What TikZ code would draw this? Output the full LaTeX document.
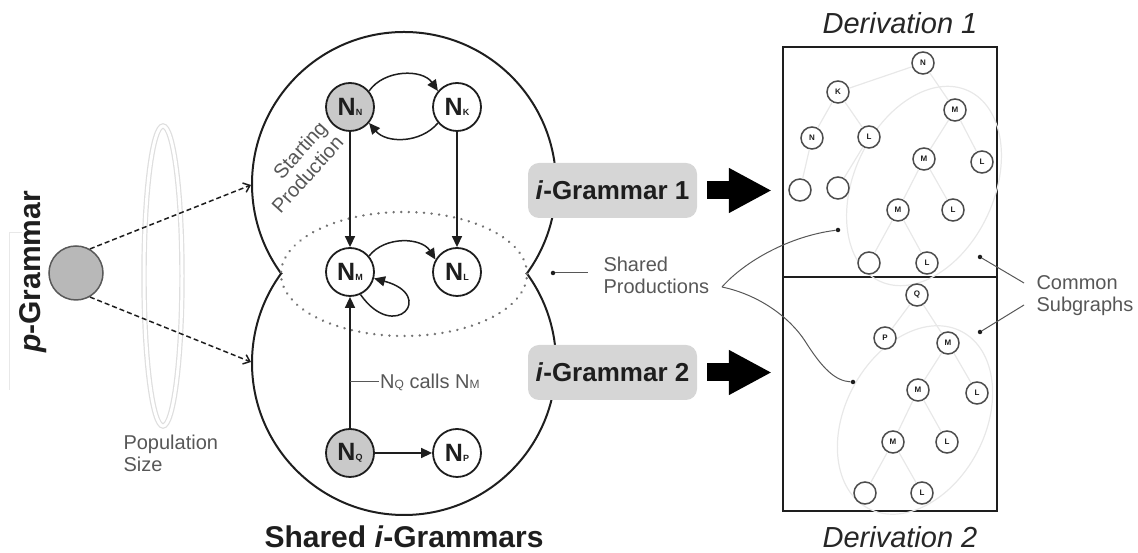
\documentclass[tikz,border=0pt]{standalone}
\usepackage{fontspec}
\setmainfont{Liberation Sans}
\usetikzlibrary{arrows.meta}
\definecolor{inkgray}{HTML}{575757}
\definecolor{fillgray}{HTML}{C9C9C9}
\definecolor{boxgray}{HTML}{D6D6D6}
\definecolor{faint}{HTML}{E8E8E8}
\definecolor{ink}{HTML}{1E1E1E}
% nonterminal label: bold N with a small index letter
\newcommand{\prodlabel}[1]{\textbf{N}{\fontsize{9}{9}\selectfont\textbf{#1}}}
\newcommand{\subtxt}[1]{{\fontsize{12}{12}\selectfont #1}}
\begin{document}
\begin{tikzpicture}[x=1pt,y=1pt,
  every node/.style={text=ink},
  prod/.style={circle,draw=ink,line width=1.8pt,minimum size=48pt,inner sep=0pt,fill=white,font=\fontsize{25}{25}\selectfont},
  startprod/.style={prod,fill=fillgray},
  dnode/.style={circle,draw=black!70,line width=1.5pt,fill=white,minimum size=22pt,inner sep=0pt,font=\bfseries\fontsize{8}{8}\selectfont},
  call/.style={-{Triangle[length=11pt,width=10pt]},line width=1.5pt,draw=ink},
  note/.style={text=inkgray,font=\fontsize{20}{22}\selectfont},
  pointer/.style={line width=1pt,draw=inkgray},
  spawn/.style={dash pattern=on 5pt off 3pt,line width=1.5pt,draw=ink,-{Straight Barb[length=6pt,width=10pt]}},
  outline/.style={line width=2pt,draw=ink},
  gbox/.style={rounded corners=11pt,fill=boxgray,minimum width=169pt,minimum height=55pt,font=\bfseries\fontsize{26}{26}\selectfont},
  bigarrow/.style={line width=18pt,draw=black,-{Triangle[length=43pt,width=42pt]}},
  derivbox/.style={draw=ink,line width=2.5pt,minimum width=214pt,inner sep=0pt},
  title/.style={font=\bfseries\fontsize{30}{30}\selectfont},
  dtitle/.style={font=\itshape\fontsize{29}{29}\selectfont,text=black!85},
  faintline/.style={draw=faint,line width=1.2pt},
  dot/.style={circle,fill=ink,inner sep=0pt,minimum size=4.5pt},
]
\useasboundingbox (0,0) rectangle (1138,553);

% ---------- p-Grammar and population ----------
\draw[faint,line width=1pt] (22,320) -- (9,320) -- (9,163);
\node[title,rotate=90] (ptitle) at (33,281) {\textit{p}-Grammar};
\draw[draw=black!13,line width=1.2pt,double=white,double distance=3pt] (163,277) ellipse [x radius=19, y radius=150];
\node[note,align=left,anchor=west] (popsize) at (120,100) {Population\\Size};
\node[circle,draw=black!65,line width=1.5pt,fill=black!28,minimum size=54pt,inner sep=0pt] (pg) at (76,280) {};

% ---------- shared i-grammars outline ----------
\begin{scope}
  \clip (200,279.5) rectangle (620,540);
  \draw[outline] (404,369) circle [radius=152];
\end{scope}
\begin{scope}
  \clip (200,279.5) rectangle (620,20);
  \draw[outline] (404,190) circle [radius=152];
\end{scope}
\coordinate (upin) at (251,368);
\coordinate (lowin) at (251,191);
\draw[spawn] (pg.60) -- (upin);
\draw[spawn] (pg.-60) -- (lowin);

% shared productions region
\draw[draw=black!55,line width=2.6pt,line cap=round,dash pattern=on 0.1pt off 7.5pt] (404,279) ellipse [x radius=123, y radius=62];

% productions
\node[startprod] (NN) at (350,446) {\prodlabel{N}};
\node[prod] (NK) at (457,446) {\prodlabel{K}};
\node[prod] (NM) at (350,281) {\prodlabel{M}};
\node[prod] (NL) at (457,281) {\prodlabel{L}};
\node[startprod] (NQ) at (350,100) {\prodlabel{Q}};
\node[prod] (NP) at (457,100) {\prodlabel{P}};

\draw[call] (NN.40) to[bend left=55] (NK.140);
\draw[call] (NK.220) to[bend left=50] (NN.320);
\draw[call] (NN) -- (NM);
\draw[call] (NK) -- (NL);
\draw[call] (NM.40) to[bend left=55] (NL.150);
\draw[call] (NM.-65) .. controls +(-55:60) and +(-15:65) .. (NM.-15);
\draw[call] (NQ) -- (NM);
\draw[call] (NQ) -- (NP);

\node[note,rotate=48,align=right] (startlbl) at (299,386) {Starting\\Production};
\coordinate (callpt) at (350,171);
\node[note,anchor=west,inner sep=1pt] (calltxt) at (379,171) {N\subtxt{Q} calls N\subtxt{M}};
\draw[pointer] (callpt) -- (calltxt.west);

\node[title,anchor=base] (shtitle) at (404,5) {Shared \textit{i}-Grammars};

% ---------- i-grammars ----------
\node[gbox] (g1) at (612.5,362.5) {\textit{i}-Grammar 1};
\node[gbox] (g2) at (612.5,180.5) {\textit{i}-Grammar 2};

\node[note,align=left,anchor=west] (sptxt) at (600,278) {Shared\\Productions};
\node[dot] (spdot) at (553,280) {};
\draw[pointer] (spdot) -- (588,280);

% ---------- derivations ----------
\node[derivbox,minimum height=230pt] (d1) at (890,391) {};
\node[derivbox,minimum height=234pt] (d2) at (890,159) {};
\node[dtitle] (d1t) at (900,530) {Derivation 1};
\node[dtitle] (d2t) at (900,16) {Derivation 2};

\draw[bigarrow] ([xshift=10pt]g1.east) -- ([xshift=-10pt]g1.east -| d1.west);
\draw[bigarrow] ([xshift=10pt]g2.east) -- ([xshift=-10pt]g2.east -| d2.west);

% common subgraphs
\draw[faintline] (924,367) ellipse [x radius=70, y radius=105, rotate=-25];
\draw[faintline] (915,133) ellipse [x radius=70, y radius=100, rotate=-28];

\foreach \n/\x/\y/\t in {a1/923/490/N, b1/838/461/K, c1/955/443/M, e1/812/415/N, f1/869/416/L,
  g1m/924/394/M, h1/982/391/L, i1/800/363/, j1/838/365/, k1/898/343/M, l1/953/343/L, m1/869/290/, n1/927/290/L}
  \node[dnode] (\n) at (\x,\y) {\t};
\foreach \n/\x/\y/\t in {a2/917/258/Q, b2/885/215/P, c2/948/210/M, e2/918/163/M, f2/977/160/L,
  g2m/893/111/M, h2/947/111/L, i2/865/60/, j2/922/60/L}
  \node[dnode] (\n) at (\x,\y) {\t};

\foreach \u/\v in {a1/b1, a1/c1, b1/e1, b1/f1, c1/g1m, c1/h1, e1/i1, f1/j1, g1m/k1, g1m/l1, k1/m1, k1/n1,
  a2/b2, a2/c2, c2/e2, c2/f2, e2/g2m, e2/h2, g2m/i2, g2m/j2}
  \draw[faintline] (\u) -- (\v);

% shared-production pointers
\coordinate (spout) at (722,266);
\node[dot] (sp1) at (838,323) {};
\node[dot] (sp2) at (853,171) {};
\draw[pointer] (spout) .. controls (745,292) and (790,317) .. (sp1);
\draw[pointer] (spout) .. controls (760,258) and (790,235) .. (805,212)
                       .. controls (822,185) and (835,172) .. (sp2);

\node[note,align=left,anchor=west] (cstxt) at (1033,257) {Common\\Subgraphs};
\node[dot] (cs1) at (980,296) {};
\node[dot] (cs2) at (980,221) {};
\draw[pointer] (1024,270) -- (cs1);
\draw[pointer] (1024,248) -- (cs2);
\end{tikzpicture}
\end{document}
